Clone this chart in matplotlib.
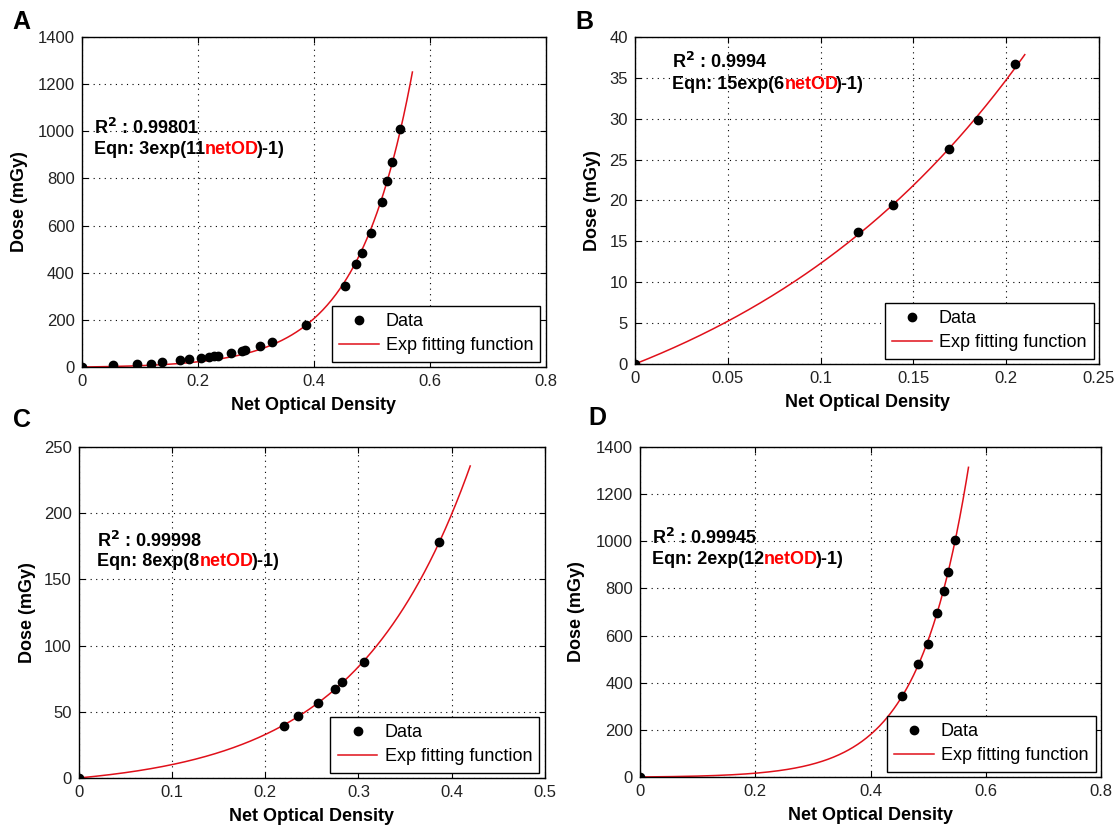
import numpy as np
import matplotlib
matplotlib.use("Agg")
import matplotlib.pyplot as plt
from matplotlib.ticker import FuncFormatter
from matplotlib.transforms import offset_copy

plt.rcParams['font.family'] = ['Liberation Sans', 'DejaVu Sans']

# film calibration points: net optical density vs delivered dose (mGy)
a_od = [0, 0.054, 0.096, 0.120, 0.138, 0.169, 0.185, 0.205, 0.220, 0.228, 0.235,
        0.257, 0.276, 0.282, 0.307, 0.328, 0.386, 0.454, 0.472, 0.483, 0.498,
        0.517, 0.527, 0.534, 0.548]
a_dose = [0, 10, 14, 14, 20, 28, 33, 38, 43, 47, 47,
          60, 68, 74, 89, 106, 177, 344, 439, 482, 567,
          699, 789, 871, 1009]

b_od = [0, 0.120, 0.139, 0.169, 0.185, 0.205]
b_dose = [0, 16.1, 19.5, 26.3, 29.8, 36.7]

c_od = [0, 0.220, 0.235, 0.257, 0.275, 0.282, 0.306, 0.387]
c_dose = [0, 39.5, 47, 56.6, 67.2, 72.3, 87.6, 178.5]

d_od = [0, 0.454, 0.483, 0.499, 0.516, 0.527, 0.534, 0.547]
d_dose = [0, 344, 481, 566, 697, 788, 870, 1007]

# fit curves are drawn from 0 up to these densities
fit_end = {'A': 0.57, 'B': 0.21, 'C': 0.42, 'D': 0.57}

r2_text = {'A': '0.99801', 'B': '0.9994', 'C': '0.99998', 'D': '0.99945'}
eqn_text = {'A': ('3exp(11', ')-1)'), 'B': ('15exp(6', ')-1)'),
            'C': ('8exp(8', ')-1)'), 'D': ('2exp(12', ')-1)')}

x_ticks = {'A': [0, 0.2, 0.4, 0.6, 0.8], 'B': [0, 0.05, 0.1, 0.15, 0.2, 0.25],
           'C': [0, 0.1, 0.2, 0.3, 0.4, 0.5], 'D': [0, 0.2, 0.4, 0.6, 0.8]}
y_ticks = {'A': list(range(0, 1401, 200)), 'B': list(range(0, 41, 5)),
           'C': list(range(0, 251, 50)), 'D': list(range(0, 1401, 200))}


def exp_fit(od, dose):
    # least squares for dose = a*(exp(b*od)-1), a solved in closed form per b
    od = np.asarray(od, dtype=float)
    dose = np.asarray(dose, dtype=float)
    best = None
    for b in np.linspace(1, 20, 3801):
        g = np.expm1(b * od)
        a = (g @ dose) / (g @ g)
        err = np.sum((a * g - dose) ** 2)
        if best is None or err < best[0]:
            best = (err, a, b)
    return best[1], best[2]


fig = plt.figure(figsize=(11.17, 8.27), dpi=100)
renderer = fig.canvas.get_renderer()

panels = [
    ('A', a_od, a_dose, [0.0731, 0.5562, 0.4156, 0.3990], (0.026, 0.724, 0.663), -0.116, (21, 22)),
    ('B', b_od, b_dose, [0.5685, 0.5599, 0.4154, 0.3954], (0.080, 0.924, 0.858), -0.073, (584, 22)),
    ('C', c_od, c_dose, [0.0706, 0.0593, 0.4171, 0.4002], (0.040, 0.715, 0.658), -0.092, (22, 420)),
    ('D', d_od, d_dose, [0.5730, 0.0605, 0.4127, 0.3990], (0.026, 0.724, 0.662), -0.120, (597, 418)),
]

for key, od, dose, rect, txt_pos, ylab_x, letter_px in panels:
    ax = fig.add_axes(rect)
    a, b = exp_fit(od, dose)
    xs = np.linspace(0, fit_end[key], 300)

    ax.plot(od, dose, 'o', color='k', ms=6, label='Data', zorder=3)
    ax.plot(xs, a * np.expm1(b * xs), '-', color='#e0101a', lw=1.1,
            label='Exp fitting function', zorder=2)

    ax.set_xlim(x_ticks[key][0], x_ticks[key][-1])
    ax.set_ylim(y_ticks[key][0], y_ticks[key][-1])
    ax.set_xticks(x_ticks[key])
    ax.set_yticks(y_ticks[key])
    fmt = FuncFormatter(lambda v, p: '%g' % v)
    ax.xaxis.set_major_formatter(fmt)
    ax.yaxis.set_major_formatter(fmt)
    ax.tick_params(direction='in', length=4, width=0.8, top=True, right=True,
                   labelsize=12, labelcolor='#222222', pad=5)
    ax.grid(True, color='k', linestyle=(0, (1, 4)), linewidth=0.8)
    for sp in ax.spines.values():
        sp.set_linewidth(1.0)

    ax.set_xlabel('Net Optical Density', fontsize=13, fontweight='bold')
    ax.set_ylabel('Dose (mGy)', fontsize=13, fontweight='bold')
    ax.xaxis.set_label_coords(0.5, -0.092)
    ax.yaxis.set_label_coords(ylab_x, 0.5)

    tx, ty_r2, ty_eq = txt_pos
    ax.text(tx, ty_r2, r'R$^{\mathbf{2}}$ : ' + r2_text[key], transform=ax.transAxes,
            fontsize=13, fontweight='bold', va='center', ha='left')

    # equation line: black / red / black pieces laid end to end
    head, tail = eqn_text[key]
    x_off = 0
    for piece, col, kern in (('Eqn: ' + head, 'k', 0), ('netOD', 'red', -3), (tail, 'k', 0)):
        tr = offset_copy(ax.transAxes, fig=fig, x=x_off, y=0, units='dots')
        t = ax.text(tx, ty_eq - 0.018, piece, transform=tr, fontsize=13,
                    fontweight='bold', color=col, va='baseline', ha='left')
        x_off += t.get_window_extent(renderer).width + kern

    leg = ax.legend(loc='lower right', fontsize=13, frameon=True, fancybox=False,
                    edgecolor='k', framealpha=1, borderaxespad=0.3,
                    handlelength=2.2, handletextpad=0.4, borderpad=0.4,
                    labelspacing=0.4, numpoints=1)
    leg.get_frame().set_linewidth(1.0)

    fig.text(letter_px[0] / 1117, 1 - letter_px[1] / 827, key, fontsize=18,
             fontweight='heavy', ha='center', va='center')

fig.savefig('out.png', dpi=100)
